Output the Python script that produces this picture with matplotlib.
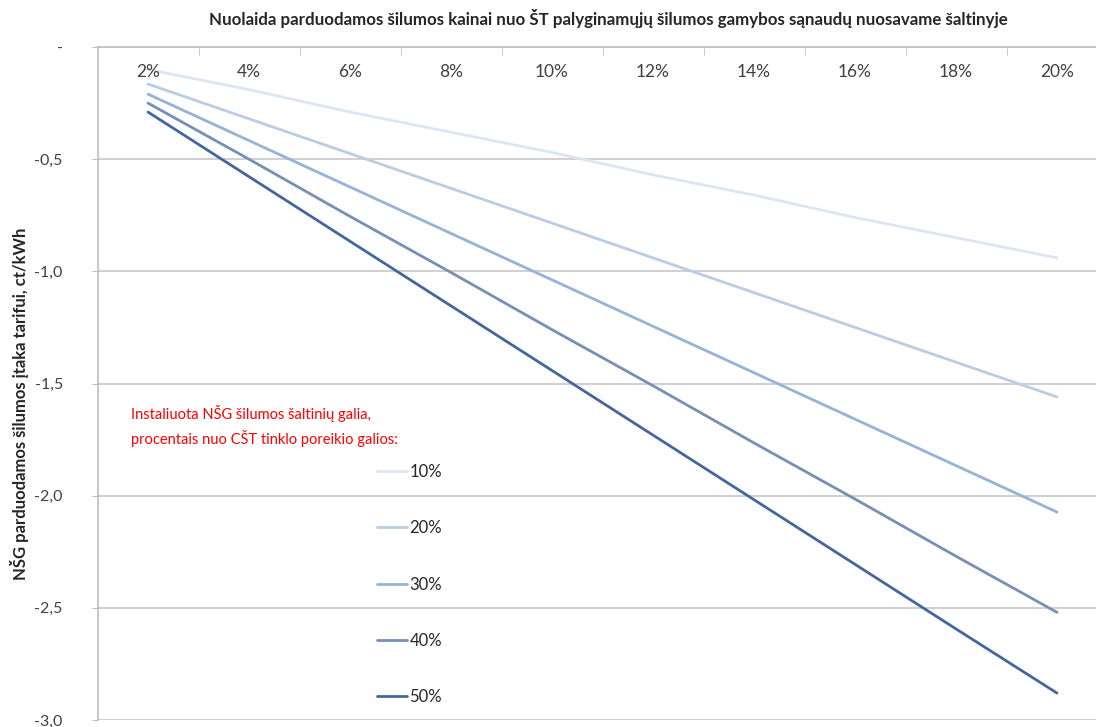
import matplotlib
matplotlib.use("Agg")
import matplotlib.pyplot as plt
from matplotlib.ticker import FixedLocator, FuncFormatter

plt.rcParams['font.family'] = ['Lato', 'DejaVu Sans']

categories = ["2%", "4%", "6%", "8%", "10%", "12%", "14%", "16%", "18%", "20%"]
series_labels = ["10%", "20%", "30%", "40%", "50%"]
s10 = [-0.10, -0.19, -0.29, -0.38, -0.47, -0.57, -0.66, -0.76, -0.85, -0.94]
s20 = [-0.165, -0.32, -0.475, -0.63, -0.785, -0.94, -1.095, -1.25, -1.405, -1.56]
s30 = [-0.21, -0.417, -0.624, -0.831, -1.038, -1.245, -1.452, -1.659, -1.866, -2.073]
s40 = [-0.25, -0.50, -0.755, -1.005, -1.26, -1.51, -1.765, -2.015, -2.27, -2.52]
s50 = [-0.29, -0.578, -0.866, -1.154, -1.442, -1.73, -2.018, -2.306, -2.594, -2.88]
series = [s10, s20, s30, s40, s50]
colors = ["#dce6f2", "#b9cde5", "#95b3d7", "#7590b6", "#43679d"]
y_ticks = [0, -0.5, -1.0, -1.5, -2.0, -2.5, -3.0]

W, H = 1096, 727
fig = plt.figure(figsize=(W / 100, H / 100), dpi=100)
left, right, top, bottom = 97.5, 1107.5, 47, 720
ax = fig.add_axes([left / W, 1 - bottom / H, (right - left) / W, (bottom - top) / H])

x = list(range(len(categories)))
for vals, c, lab in zip(series, colors, series_labels):
    ax.plot(x, vals, color=c, lw=2.0, label=lab, solid_capstyle='round')

ax.set_xlim(-0.5, len(categories) - 0.5)
ax.set_ylim(-3.0, 0)

# grid
ax.yaxis.set_major_locator(FixedLocator(y_ticks))
ax.grid(axis='y', color='#c8c8c8', lw=1.2)
ax.set_axisbelow(True)

def yfmt(v, pos):
    if abs(v) < 1e-9:
        return "-"
    return f"{v:.1f}".replace(".", ",")
ax.yaxis.set_major_formatter(FuncFormatter(yfmt))
ax.tick_params(axis='y', length=4, color='#bfbfbf', labelsize=11.5, labelcolor='#404040', pad=21)

# x axis: labels inside at top
ax.xaxis.tick_top()
ax.set_xticks(x)
ax.set_xticklabels([])
ax.tick_params(axis='x', which='major', length=0)
ax.set_xticks([i + 0.5 for i in range(len(categories) - 1)], minor=True)
ax.tick_params(axis='x', which='minor', direction='in', length=6, color='#bfbfbf', top=True, bottom=False)
for i, c in enumerate(categories):
    ax.text(i, -0.11, c, ha='center', va='center', fontsize=12.5, color='#404040')

for s in ['right', 'bottom']:
    ax.spines[s].set_visible(False)
ax.spines['top'].set_color('#bfbfbf')
ax.spines['left'].set_color('#bfbfbf')
ax.spines['top'].set_linewidth(1.2)
ax.spines['left'].set_linewidth(1.2)

fig.text(608 / W, 1 - 18 / H, "Nuolaida parduodamos šilumos kainai nuo ŠT palyginamųjų šilumos gamybos sąnaudų nuosavame šaltinyje",
         ha='center', va='center', fontsize=12.2, fontweight='bold', color='#262626')
fig.text(20 / W, 1 - 404 / H, "NŠG parduodamos šilumos įtaka tarifui, ct/kWh", rotation=90,
         ha='center', va='center', fontsize=12, fontweight='bold', color='#262626')

fig.text(131 / W, 1 - 426 / H, "Instaliuota NŠG šilumos šaltinių galia,\nprocentais nuo CŠT tinklo poreikio galios:",
         ha='left', va='center', fontsize=10.5, color='#ff0000', linespacing=1.55)

leg = ax.legend(loc='upper left', bbox_to_anchor=((377 - left) / (right - left), 1 - (464 - top) / (bottom - top)),
                frameon=False, fontsize=12, handlelength=1.8, handletextpad=0.15,
                labelspacing=2.42, borderpad=0, borderaxespad=0)
for t in leg.get_texts():
    t.set_color('#262626')

fig.savefig("out.png", dpi=100)
